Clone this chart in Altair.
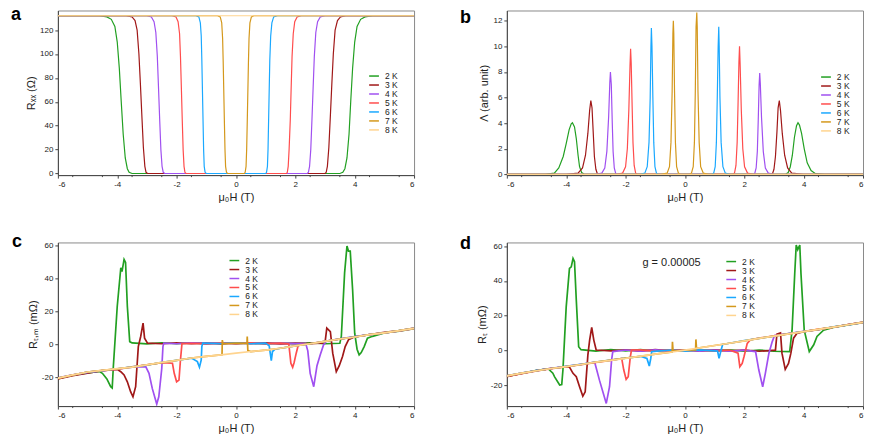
import altair as alt
import pandas as pd

FONT = "Liberation Sans"
TEMPS = ["2 K", "3 K", "4 K", "5 K", "6 K", "7 K", "8 K"]
COLORS = ["#22a022", "#a01818", "#a050f0", "#ff4d4d", "#1aa8ff", "#d4981c", "#ffd48f"]
X_TICKS = [-6, -5, -4, -3, -2, -1, 0, 1, 2, 3, 4, 5, 6]
X_MINOR = [-5.5, -4.5, -3.5, -2.5, -1.5, -0.5, 0.5, 1.5, 2.5, 3.5, 4.5, 5.5]

# ---------------- panel a : Rxx (Ohm) ----------------
A_2K = [(-6, 132), (-4.6, 132), (-4.35, 131), (-4.2, 129), (-4.08, 123), (-4.0, 110), (-3.93, 88), (-3.87, 62),
        (-3.8, 33), (-3.73, 13), (-3.66, 4), (-3.6, 1), (-3.5, 0), (3.5, 0), (3.6, 1), (3.67, 4), (3.74, 13),
        (3.81, 33), (3.87, 62), (3.93, 88), (4.0, 110), (4.08, 123), (4.2, 129), (4.35, 131), (4.6, 132), (6, 132)]
A_3K = [(-6, 132), (-3.7, 132), (-3.5, 131), (-3.4, 128), (-3.33, 120), (-3.27, 100), (-3.22, 75), (-3.17, 48),
        (-3.12, 22), (-3.07, 6), (-3.03, 1), (-2.98, 0), (3.0, 0), (3.04, 1), (3.08, 6), (3.13, 22), (3.18, 48),
        (3.23, 75), (3.28, 100), (3.34, 120), (3.42, 128), (3.52, 131), (3.7, 132), (6, 132)]
A_4K = [(-6, 132), (-3.0, 132), (-2.85, 131), (-2.76, 127), (-2.7, 118), (-2.65, 98), (-2.61, 72), (-2.57, 45),
        (-2.53, 20), (-2.49, 6), (-2.45, 1), (-2.4, 0), (2.4, 0), (2.44, 1), (2.48, 6), (2.52, 20), (2.56, 45),
        (2.6, 72), (2.64, 98), (2.69, 118), (2.75, 127), (2.84, 131), (3.0, 132), (6, 132)]
A_5K = [(-6, 132), (-2.15, 132), (-2.02, 131), (-1.95, 127), (-1.9, 117), (-1.87, 98), (-1.84, 72), (-1.81, 45),
        (-1.78, 20), (-1.75, 6), (-1.72, 1), (-1.68, 0), (1.7, 0), (1.73, 1), (1.76, 6), (1.79, 20), (1.83, 45),
        (1.86, 72), (1.89, 98), (1.93, 117), (1.98, 127), (2.06, 131), (2.2, 132), (6, 132)]
A_6K = [(-6, 132), (-1.35, 132), (-1.25, 131), (-1.2, 126), (-1.17, 115), (-1.15, 95), (-1.13, 70), (-1.11, 45),
        (-1.09, 20), (-1.07, 6), (-1.04, 1), (-1.0, 0), (1.0, 0), (1.03, 1), (1.06, 6), (1.08, 20), (1.1, 45),
        (1.12, 70), (1.14, 95), (1.17, 115), (1.21, 126), (1.27, 131), (1.4, 132), (6, 132)]
A_7K = [(-6, 132), (-0.62, 132), (-0.53, 131), (-0.48, 126), (-0.45, 113), (-0.43, 93), (-0.41, 68), (-0.39, 43),
        (-0.37, 20), (-0.35, 6), (-0.32, 1), (-0.28, 0), (0.28, 0), (0.31, 1), (0.34, 6), (0.36, 20), (0.38, 43),
        (0.4, 68), (0.42, 93), (0.44, 113), (0.47, 126), (0.52, 131), (0.6, 132), (6, 132)]
A_8K = [(-6, 132), (6, 132)]

# ---------------- panel b : Lambda (arb. unit) ----------------
B_2K = [(-6, 0), (-4.7, 0), (-4.4, 0.1), (-4.25, 0.5), (-4.1, 1.4), (-4.0, 2.4), (-3.9, 3.5), (-3.83, 3.95),
        (-3.79, 4.03), (-3.72, 3.7), (-3.66, 2.8), (-3.6, 1.5), (-3.55, 0.6), (-3.48, 0.15), (-3.4, 0.03),
        (-3.3, 0), (3.3, 0), (3.4, 0.03), (3.48, 0.15), (3.55, 0.6), (3.62, 1.5), (3.69, 2.9), (3.76, 3.8),
        (3.81, 4.03), (3.86, 3.85), (3.93, 3.2), (4.02, 2.0), (4.12, 0.9), (4.25, 0.3), (4.4, 0.06), (4.7, 0), (6, 0)]
B_3K = [(-6, 0), (-4.0, 0), (-3.6, 0.1), (-3.45, 0.5), (-3.35, 1.5), (-3.27, 3.2), (-3.21, 5.0), (-3.17, 5.77),
        (-3.13, 5.2), (-3.09, 3.3), (-3.05, 1.4), (-3.0, 0.4), (-2.95, 0.05), (-2.9, 0), (2.9, 0), (2.95, 0.05),
        (3.0, 0.4), (3.05, 1.4), (3.1, 3.3), (3.14, 5.2), (3.18, 5.77), (3.22, 5.0), (3.28, 3.2), (3.36, 1.5),
        (3.46, 0.5), (3.6, 0.1), (4.0, 0), (6, 0)]
B_4K = [(-6, 0), (-3.0, 0), (-2.8, 0.1), (-2.7, 0.5), (-2.63, 1.8), (-2.57, 4.5), (-2.53, 7.2), (-2.51, 8.0),
        (-2.48, 7.0), (-2.45, 4.2), (-2.42, 1.8), (-2.38, 0.5), (-2.33, 0.05), (-2.3, 0), (2.3, 0), (2.35, 0.05),
        (2.4, 0.5), (2.44, 1.8), (2.47, 4.2), (2.5, 7.0), (2.52, 7.92), (2.54, 7.1), (2.58, 4.5), (2.64, 1.8),
        (2.71, 0.5), (2.81, 0.1), (3.0, 0), (6, 0)]
B_5K = [(-6, 0), (-2.3, 0), (-2.1, 0.1), (-2.0, 0.6), (-1.94, 2.0), (-1.89, 5.0), (-1.85, 8.5), (-1.83, 9.82),
        (-1.81, 8.7), (-1.78, 5.5), (-1.75, 2.5), (-1.71, 0.7), (-1.66, 0.1), (-1.6, 0), (1.6, 0), (1.67, 0.1),
        (1.72, 0.7), (1.76, 2.5), (1.79, 5.5), (1.82, 8.8), (1.84, 10.0), (1.86, 8.6), (1.9, 5.0), (1.95, 2.0),
        (2.01, 0.6), (2.11, 0.1), (2.3, 0), (6, 0)]
B_6K = [(-6, 0), (-1.5, 0), (-1.35, 0.1), (-1.27, 0.6), (-1.21, 2.5), (-1.17, 6.0), (-1.145, 10.0), (-1.13, 11.43),
        (-1.11, 10.0), (-1.08, 6.0), (-1.05, 2.5), (-1.01, 0.6), (-0.96, 0.1), (-0.9, 0), (0.9, 0), (0.97, 0.1),
        (1.02, 0.6), (1.06, 2.5), (1.09, 6.0), (1.12, 10.0), (1.14, 11.53), (1.155, 10.0), (1.18, 6.0),
        (1.22, 2.5), (1.28, 0.6), (1.36, 0.1), (1.5, 0), (6, 0)]
B_7K = [(-6, 0), (-0.8, 0), (-0.6, 0.1), (-0.52, 0.6), (-0.47, 2.5), (-0.43, 6.5), (-0.405, 11.0), (-0.39, 12.0),
        (-0.375, 11.0), (-0.35, 6.5), (-0.32, 2.5), (-0.28, 0.6), (-0.22, 0.1), (-0.15, 0), (0.15, 0), (0.22, 0.1),
        (0.28, 0.6), (0.32, 2.5), (0.35, 6.5), (0.375, 11.5), (0.4, 12.65), (0.415, 11.5), (0.44, 6.5),
        (0.48, 2.5), (0.53, 0.6), (0.62, 0.1), (0.8, 0), (6, 0)]
B_8K = [(-6, 0), (6, 0)]

# ---------------- panel c : R_T,m (mOhm) ----------------
C_2K = [(-6, -20.8), (-5.5, -18.7), (-5, -17.3), (-4.6, -16.5), (-4.5, -17.6), (-4.35, -21), (-4.22, -25.7),
        (-4.17, -26.5), (-4.13, -13), (-4.0, 23), (-3.88, 46.3), (-3.84, 44), (-3.77, 51.3), (-3.72, 49.5),
        (-3.66, 23), (-3.58, 1.6), (-3.5, 0.8), (-3.0, 0.2), (-2.5, 0.9), (-2.0, 0.3), (-1.5, 0.8), (-1.0, 0.4),
        (-0.5, 0.9), (0, 0.3), (0.5, 0.8), (1.0, 0.2), (1.5, 0.7), (2.0, 0.4), (2.5, 0.9), (3.0, 0.3), (3.5, 0.6),
        (3.55, 4.7), (3.66, 43.2), (3.74, 59.4), (3.79, 56.4), (3.85, 56.4), (3.93, 33), (4.0, 6.7), (4.08, -3),
        (4.15, -6.4), (4.22, -5), (4.32, -1.4), (4.43, 3.7), (4.6, 4.8), (5.0, 6.8), (5.5, 8.0), (6, 9.4)]
C_3K = [(-6, -21), (-5.5, -19), (-5, -17.5), (-4.5, -16), (-4, -15.2), (-3.88, -16.6), (-3.77, -18.6),
        (-3.66, -22.7), (-3.55, -28.7), (-3.47, -31.8), (-3.38, -25.7), (-3.29, -1.4), (-3.21, 4.7),
        (-3.13, 12.8), (-3.08, 3.7), (-2.98, 0.7), (-2.5, 0.3), (-2.0, 0.8), (-1.5, 0.3), (-1.0, 0.7), (-0.5, 0.2),
        (0, 0.8), (0.5, 0.3), (1.0, 0.8), (1.5, 0.2), (2.0, 0.7), (2.5, 0.4), (3.0, 0.8), (3.06, 9.8),
        (3.18, 7.7), (3.26, -5.4), (3.38, -16.6), (3.48, -13), (3.59, -7.4), (3.68, -1.4), (3.79, 2.7),
        (4.0, 4.5), (4.5, 5.8), (5.0, 7.2), (5.5, 8.3), (6, 9.8)]
C_4K = [(-6, -20.3), (-5.5, -18.5), (-5, -17), (-4.5, -16), (-4, -15), (-3.5, -13.8), (-3.04, -13.5),
        (-2.93, -17.6), (-2.82, -26.7), (-2.67, -36.2), (-2.6, -31.8), (-2.5, -14.7), (-2.46, -1.4),
        (-2.43, 0.7), (-2.0, 0.3), (-1.5, 0.9), (-1.0, 0.4), (-0.5, 0.8), (0, 0.3), (0.5, 0.8), (1.0, 0.3),
        (1.5, 0.7), (2.0, 0.4), (2.35, 0.5), (2.42, -4), (2.5, -17.6), (2.62, -25.7), (2.73, -13), (2.84, -6.4),
        (2.95, -0.4), (3.05, 2.0), (3.5, 3.3), (4.0, 4.6), (4.5, 5.8), (5.0, 6.8), (5.5, 8.0), (6, 9.6)]
C_5K = [(-6, -20.6), (-5.5, -18.6), (-5, -16.8), (-4.5, -16), (-4, -15), (-3.5, -13.6), (-3, -12.5),
        (-2.5, -11.2), (-2.14, -11.5), (-2.08, -17.6), (-2.0, -22.7), (-1.92, -21.7), (-1.87, -9.5),
        (-1.82, 0.3), (-1.5, 0.6), (-1.0, 0.2), (-0.5, 0.8), (0, 0.4), (0.5, 0.9), (1.0, 0.3), (1.5, 0.7),
        (1.78, 0.2), (1.85, -11.5), (1.91, -13.9), (1.96, -11), (2.03, -5.4), (2.1, -0.5), (2.5, 0.4),
        (3.0, 1.8), (3.5, 3.1), (4.0, 4.4), (4.5, 5.9), (5.0, 6.9), (5.5, 8.1), (6, 9.5)]
C_6K = [(-6, -20.4), (-5.5, -18.6), (-5, -16.9), (-4.5, -15.9), (-4, -14.8), (-3.5, -13.7), (-3, -12.6),
        (-2.5, -11), (-2, -9.8), (-1.5, -8.4), (-1.3, -10.5), (-1.23, -13.9), (-1.17, -9.5), (-1.15, -1.4),
        (-1.12, 0.7), (-0.5, 0.4), (0, 0.9), (0.5, 0.3), (1.0, 0.7), (1.12, -1), (1.19, -9.9), (1.23, -4.4),
        (1.3, -3.2), (1.5, -2.4), (2.0, -1), (2.5, 0.3), (3.0, 1.7), (3.5, 3.2), (4.0, 4.5), (4.5, 5.8),
        (5.0, 6.9), (5.5, 8.2), (6, 9.6)]
C_7K = [(-6, -20.5), (-5.5, -18.7), (-5, -16.8), (-4.5, -15.8), (-4, -14.9), (-3.5, -13.8), (-3, -12.5),
        (-2.5, -11.1), (-2, -9.8), (-1.5, -8.3), (-1, -7.3), (-0.47, -6.4), (-0.46, 2.5), (-0.44, 0.3),
        (0, 0.7), (0.37, 0.5), (0.38, 4.7), (0.4, -3.8), (0.5, -4.4), (1.0, -3.6), (1.5, -2.4), (2.0, -1),
        (2.5, 0.3), (3.0, 1.7), (3.5, 3.2), (4.0, 4.4), (4.5, 5.8), (5.0, 6.9), (5.5, 8.2), (6, 9.6)]
C_8K = [(-6, -20.5), (-5.5, -18.5), (-5, -16.8), (-4.5, -15.8), (-4, -14.8), (-3.5, -13.8), (-3, -12.5),
        (-2.5, -11), (-2, -9.8), (-1.5, -8.3), (-1, -7.3), (-0.5, -6.4), (0, -5.4), (0.5, -4.4), (1.0, -3.6),
        (1.5, -2.4), (2.0, -1.0), (2.5, 0.3), (3.0, 1.7), (3.5, 3.2), (4.0, 4.4), (4.5, 5.8), (5.0, 6.9),
        (5.5, 8.2), (6, 9.6)]

# ---------------- panel d : R_T (mOhm) ----------------
D_2K = [(-6, -14.8), (-5.5, -13.2), (-5, -11.4), (-4.6, -10.5), (-4.45, -13), (-4.39, -15.1), (-4.22, -19.8),
        (-4.15, -19.5), (-4.11, -11.2), (-4.0, 25.1), (-3.89, 47.2), (-3.83, 48.1), (-3.77, 52.9), (-3.72, 51),
        (-3.66, 29), (-3.58, 2.2), (-3.5, 0.5), (-3.0, -0.3), (-2.5, 0.6), (-2.0, -0.2), (-1.5, 0.5), (-1.0, -0.3),
        (-0.5, 0.4), (0, -0.2), (0.5, 0.5), (1.0, -0.3), (1.5, 0.4), (2.0, -0.4), (2.5, 0.3), (3.0, -0.4),
        (3.53, -0.6), (3.61, 11.7), (3.7, 44.3), (3.75, 60.6), (3.8, 58), (3.87, 60.6), (3.91, 44.3),
        (4.02, 11.7), (4.19, -0.6), (4.34, 3.3), (4.45, 8.1), (4.67, 11.7), (5.0, 13.3), (5.5, 14.7), (6, 16)]
D_3K = [(-6, -15), (-5.5, -13.1), (-5, -11.5), (-4.5, -10.2), (-4, -9.3), (-3.89, -9.5), (-3.77, -13.1),
        (-3.66, -15), (-3.55, -20.8), (-3.44, -26.2), (-3.36, -23.7), (-3.27, -2.6), (-3.21, 6), (-3.14, 13.3),
        (-3.07, 6), (-2.99, 0.3), (-2.5, -0.2), (-2.0, 0.4), (-1.5, -0.3), (-1.0, 0.5), (-0.5, -0.2), (0, 0.4),
        (0.5, -0.3), (1.0, 0.4), (1.5, -0.2), (2.0, 0.3), (2.5, -0.4), (3.05, 0.2), (3.1, 9.5), (3.22, 10.2),
        (3.27, -1.5), (3.38, -10.8), (3.49, -7.4), (3.57, -1.5), (3.66, 7.1), (3.77, 9.8), (4.0, 10.9),
        (4.5, 12.0), (5.0, 13.5), (5.5, 14.9), (6, 16.3)]
D_4K = [(-6, -14.5), (-5.5, -12.9), (-5, -11.5), (-4.5, -10.2), (-4, -9.1), (-3.5, -7.9), (-3.04, -6.7),
        (-2.88, -17), (-2.65, -30.4), (-2.54, -20.8), (-2.47, -5.4), (-2.43, -0.6), (-2.0, 0.3), (-1.5, -0.3),
        (-1.0, 0.4), (-0.5, -0.2), (0, 0.3), (0.5, -0.3), (1.0, 0.3), (1.5, -0.4), (2.0, 0.2), (2.38, -0.6),
        (2.49, -11.2), (2.62, -20.8), (2.71, -13.1), (2.83, -1.5), (2.94, 5), (3.02, 8.6), (3.5, 9.7),
        (4.0, 11.0), (4.5, 12.1), (5.0, 13.4), (5.5, 14.8), (6, 16.1)]
D_5K = [(-6, -14.8), (-5.5, -13.3), (-5, -11.7), (-4.5, -10.4), (-4, -9.3), (-3.5, -8.1), (-3, -6.8),
        (-2.5, -5.6), (-2.13, -4.5), (-2.06, -11.2), (-1.98, -16.6), (-1.91, -15), (-1.84, -3.6), (-1.8, 0.3),
        (-1.5, 0.4), (-1.0, -0.3), (-0.5, 0.4), (0, -0.2), (0.5, 0.4), (1.0, -0.3), (1.5, 0.3), (1.79, -1.5),
        (1.85, -9.3), (1.93, -7.4), (1.99, -3.6), (2.1, 4.1), (2.21, 6.2), (2.5, 7.1), (3.0, 8.4), (3.5, 9.7),
        (4.0, 10.8), (4.5, 12.3), (5.0, 13.4), (5.5, 14.9), (6, 16.2)]
D_6K = [(-6, -14.6), (-5.5, -13), (-5, -11.5), (-4.5, -10.3), (-4, -9.1), (-3.5, -7.9), (-3, -6.6),
        (-2.5, -5.5), (-2, -4.4), (-1.5, -3.3), (-1.28, -4.5), (-1.2, -8.9), (-1.15, -4.5), (-1.12, -0.6),
        (-0.5, 0.3), (0, -0.3), (0.5, 0.4), (1.1, -0.3), (1.15, -4.5), (1.2, -1), (1.27, 3.5), (1.5, 4.2),
        (2.0, 5.7), (2.5, 7.0), (3.0, 8.2), (3.5, 9.7), (4.0, 10.9), (4.5, 12.1), (5.0, 13.6), (5.5, 14.7),
        (6, 16.2)]
D_7K = [(-6, -14.5), (-5.5, -13), (-5, -11.6), (-4.5, -10.3), (-4, -9.2), (-3.5, -8), (-3, -6.7),
        (-2.5, -5.5), (-2, -4.4), (-1.5, -3.3), (-1, -2.1), (-0.43, -0.8), (-0.42, 5), (-0.4, -0.3), (0, 0.2),
        (0.36, 0.3), (0.37, 6.4), (0.39, 1.3), (0.5, 1.6), (1.0, 2.9), (1.5, 4.2), (2.0, 5.6), (2.5, 7.0),
        (3.0, 8.3), (3.5, 9.6), (4.0, 10.9), (4.5, 12.2), (5.0, 13.5), (5.5, 14.8), (6, 16.2)]
D_8K = [(-6, -14.6), (-5.5, -13), (-5, -11.6), (-4.5, -10.3), (-4, -9.2), (-3.5, -8), (-3, -6.7),
        (-2.5, -5.6), (-2, -4.5), (-1.5, -3.2), (-1, -2.1), (-0.5, -1), (0, 0.2), (0.5, 1.5), (1.0, 2.9),
        (1.5, 4.2), (2.0, 5.6), (2.5, 7.0), (3.0, 8.3), (3.5, 9.6), (4.0, 10.9), (4.5, 12.2), (5.0, 13.5),
        (5.5, 14.8), (6, 16.2)]

G_TEXT = "g = 0.00005"


def frame(series):
    rows = []
    for t, pts in zip(TEMPS, series):
        for i, (x, y) in enumerate(pts):
            rows.append({"T": t, "x": x, "y": y, "i": i})
    return pd.DataFrame(rows)


def panel(series, letter, ydom, yvals, ytitle, w, h, lx, ly, legx, legy, sw, extra=None):
    xscale = alt.Scale(domain=[-6, 6], nice=False, zero=False)
    yscale = alt.Scale(domain=ydom, nice=False, zero=False)
    lines = alt.Chart(frame(series)).mark_line(strokeWidth=sw, clip=True).encode(
        x=alt.X("x:Q", scale=xscale,
                axis=alt.Axis(values=X_TICKS, title="μ₀H (T)", labelExpr="'' + datum.value")),
        y=alt.Y("y:Q", scale=yscale,
                axis=alt.Axis(values=yvals, title=ytitle, labelExpr="'' + datum.value")),
        color=alt.Color("T:N", scale=alt.Scale(domain=TEMPS, range=COLORS),
                        legend=alt.Legend(orient="none", legendX=legx, legendY=legy, title=None,
                                          symbolType="M-1.4,0H1.4", symbolStrokeWidth=1.5, symbolSize=49,
                                          labelFontSize=8.5, labelFont=FONT, labelColor="#222",
                                          rowPadding=0, labelOffset=6.4, padding=0)),
        order="i:Q",
    )
    minor = alt.Chart(pd.DataFrame({"m": X_MINOR})).mark_rule(color="#444", strokeWidth=1).encode(
        x=alt.X("m:Q", scale=xscale), y=alt.value(h), y2=alt.value(h + 2))
    lab = alt.Chart(pd.DataFrame({"t": [letter]})).mark_text(
        align="left", baseline="alphabetic", fontSize=18, fontWeight="bold", font=FONT, color="#000"
    ).encode(x=alt.value(lx), y=alt.value(ly), text="t:N")
    layers = [lines, minor, lab]
    if extra is not None:
        layers.append(extra)
    return alt.layer(*layers).properties(width=w, height=h)


g_df = pd.DataFrame({"x": [-1.43], "y": [50.5], "t": [G_TEXT]})
g_text = alt.Chart(g_df).mark_text(align="left", baseline="middle", fontSize=11, font=FONT, color="#222").encode(
    x=alt.X("x:Q", scale=alt.Scale(domain=[-6, 6], nice=False)), y="y:Q", text="t:N")

pa = panel([A_2K, A_3K, A_4K, A_5K, A_6K, A_7K, A_8K], "a", [-1.33, 136.4], [0, 20, 40, 60, 80, 100, 120],
           "Rₓₓ (Ω)", 357, 165, -47, 10, 312.4, 61.2, 1.2)
pb = panel([B_2K, B_3K, B_4K, B_5K, B_6K, B_7K, B_8K], "b", [-0.055, 12.8], [0, 2, 4, 6, 8, 10, 12],
           "Λ (arb. unit)", 357, 165, -47, 12.5, 315.4, 62.2, 1.2)
pc = panel([C_2K, C_3K, C_4K, C_5K, C_6K, C_7K, C_8K], "c", [-37.4, 61.6], [-20, 0, 20, 40, 60],
           "Rₜ,ₘ (mΩ)", 357, 164, -46, 5, 172.4, 13.65, 1.7)
pd_ = panel([D_2K, D_3K, D_4K, D_5K, D_6K, D_7K, D_8K], "d", [-31.9, 62.1], [-20, 0, 20, 40, 60],
            "Rₜ (mΩ)", 357, 164, -47, 7, 220.4, 14.65, 1.7, extra=g_text)

row1 = alt.hconcat(pa, pb, spacing=44).resolve_scale(color="independent").resolve_legend(color="independent")
row2 = alt.hconcat(pc, pd_, spacing=44).resolve_scale(color="independent").resolve_legend(color="independent")
chart = alt.vconcat(row1, row2, spacing=29.5).resolve_scale(color="independent").resolve_legend(
    color="independent").properties(padding={"left": 2, "top": -3, "right": 0, "bottom": 0}).configure(
    font=FONT).configure_view(stroke="#8a8a8a", strokeWidth=1).configure_axis(
    labelFont=FONT, titleFont=FONT, labelFontSize=8, titleFontSize=11, titleFontWeight="normal",
    labelColor="#222", titleColor="#222", domainColor="#444", tickColor="#444", tickSize=3,
    labelPadding=2, grid=False, titlePadding=3)

chart.save("out.html", embed_options={"renderer": "svg", "actions": False})
